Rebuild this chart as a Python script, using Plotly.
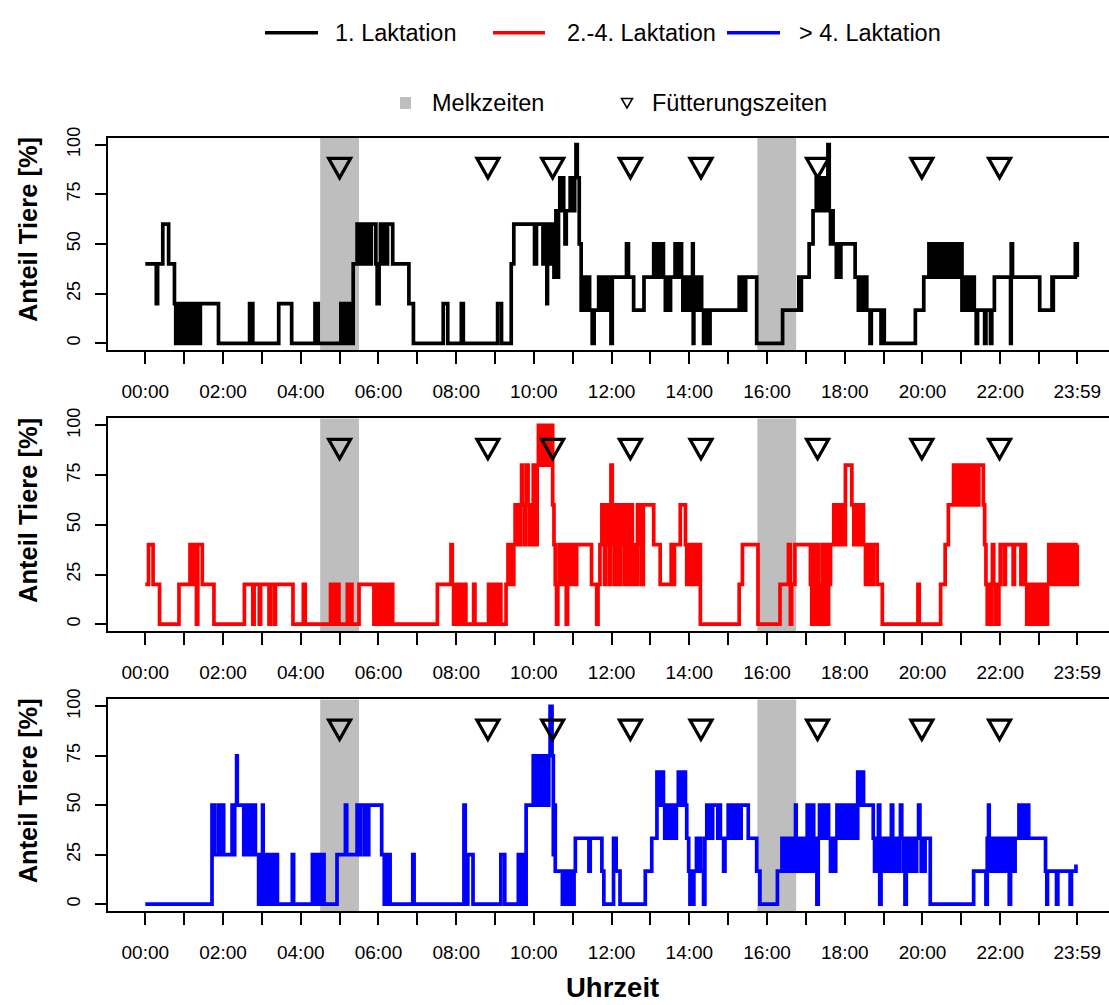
import plotly.graph_objects as go

# Time of day in minutes after midnight, share of animals in the area in percent.
# 1. Laktation
t1 = [0, 17, 19, 27, 36, 45, 47, 49, 51, 53, 55, 57, 59, 61, 63, 65, 67, 69, 71, 73, 75, 77, 79, 81, 83, 85,
      113, 161, 166, 206, 226, 262, 267, 302, 304, 307, 309, 312, 314, 317, 319, 321, 327, 329, 331, 333, 335,
      337, 339, 341, 343, 347, 349, 356, 358, 361, 363, 368, 369, 373, 374, 382, 407, 414, 460, 467, 488, 491,
      544, 550, 565, 569, 601, 604, 614, 616, 618, 620, 621, 623, 625, 627, 629, 631, 634, 636, 638, 640, 642,
      644, 646, 648, 650, 656, 660, 663, 665, 667, 670, 673, 675, 677, 679, 681, 684, 686, 690, 693, 700, 702,
      704, 706, 708, 710, 712, 714, 716, 719, 721, 743, 746, 754, 770, 785, 787, 789, 791, 793, 795, 797, 800,
      803, 806, 808, 811, 818, 820, 822, 824, 826, 828, 830, 832, 834, 836, 838, 840, 843, 845, 846, 847, 849,
      851, 853, 855, 857, 859, 862, 864, 866, 868, 870, 872, 917, 919, 922, 924, 927, 944, 984, 1009, 1011, 1013,
      1025, 1031, 1036, 1038, 1040, 1042, 1044, 1046, 1048, 1050, 1052, 1054, 1056, 1058, 1060, 1062, 1067,
      1068, 1073, 1074, 1096, 1101, 1103, 1105, 1107, 1109, 1111, 1114, 1119, 1121, 1136, 1138, 1141, 1189,
      1202, 1210, 1212, 1214, 1216, 1218, 1220, 1222, 1224, 1226, 1228, 1230, 1232, 1234, 1236, 1238, 1240,
      1242, 1244, 1246, 1248, 1250, 1252, 1254, 1256, 1258, 1261, 1263, 1265, 1267, 1269, 1271, 1274, 1277,
      1280, 1283, 1285, 1296, 1298, 1305, 1307, 1311, 1336, 1337, 1339, 1381, 1400, 1401, 1402, 1436, 1439]
v1 = [40, 20, 40, 60, 40, 20, 0, 20, 0, 20, 0, 20, 0, 20, 0, 20, 0, 20, 0, 20, 0, 20, 0, 20, 0, 20,
      0, 20, 0, 20, 0, 20, 0, 20, 0, 20, 0, 20, 0, 20, 0, 40, 60, 40, 60, 40, 60,
      40, 60, 40, 60, 40, 60, 40, 20, 40, 60, 40, 60, 40, 60, 40, 20, 0, 20, 0, 20, 0,
      20, 0, 40, 60, 40, 60, 40, 60, 40, 20, 40, 60, 40, 60, 40, 33.3, 66.7, 33.3, 66.7, 83.3, 66.7,
      83.3, 66.7, 50, 66.7, 83.3, 66.7, 83.3, 100, 83.3, 50, 16.7, 33.3, 16.7, 33.3, 16.7, 33.3, 16.7, 0, 16.7, 33.3, 16.7,
      33.3, 16.7, 33.3, 16.7, 33.3, 16.7, 33.3, 0, 33.3, 50, 33.3, 16.7, 33.3, 50, 33.3, 50, 33.3, 50, 33.3, 50, 33.3,
      16.7, 33.3, 16.7, 33.3, 50, 33.3, 50, 33.3, 50, 33.3, 16.7, 33.3, 16.7, 33.3, 16.7, 33.3, 16.7, 50, 0, 16.7, 33.3,
      16.7, 33.3, 16.7, 33.3, 16.7, 0, 16.7, 0, 16.7, 0, 16.7, 33.3, 16.7, 33.3, 16.7, 33.3, 0, 16.7, 33.3, 16.7, 33.3,
      50, 66.7, 83.3, 66.7, 83.3, 66.7, 83.3, 66.7, 83.3, 66.7, 83.3, 100, 66.7, 50, 66.7, 50, 33.3,
      50, 33.3, 50, 33.3, 16.7, 33.3, 16.7, 33.3, 16.7, 33.3, 16.7, 0, 16.7, 0, 16.7, 0, 16.7,
      33.3, 50, 33.3, 50, 33.3, 50, 33.3, 50, 33.3, 50, 33.3, 50, 33.3, 50, 33.3, 50, 33.3,
      50, 33.3, 50, 33.3, 50, 33.3, 50, 33.3, 50, 16.7, 33.3, 16.7, 33.3, 16.7, 33.3, 16.7, 33.3,
      16.7, 0, 16.7, 0, 16.7, 0, 16.7, 33.3, 0, 50, 33.3, 16.7, 33.3, 16.7, 33.3, 50, 33.3]

# 2.-4. Laktation
t2 = [0, 5, 12, 22, 52, 69, 73, 75, 79, 81, 88, 106, 153, 166, 168, 176, 178, 191, 193, 199, 201,
      228, 244, 247, 286, 288, 290, 291, 294, 296, 298, 299, 312, 314, 317, 319, 330, 353,
      355, 357, 359, 361, 363, 365, 367, 369, 371, 373, 375, 377, 379, 382, 451, 472, 474, 476, 478, 480, 482,
      484, 486, 488, 490, 495, 507, 509, 530, 532, 535, 537, 541, 543, 547, 549, 557, 560, 562, 564, 566, 569,
      571, 573, 575, 577, 579, 581, 583, 585, 587, 589, 591, 593, 595, 597, 599, 601, 603, 605, 607, 609, 611,
      613, 615, 617, 619, 621, 623, 625, 627, 629, 631, 633, 635, 637, 639, 641, 643, 645, 647, 650, 652, 655,
      657, 660, 662, 666, 689, 697, 699, 702, 705, 707, 709, 711, 713, 715, 717, 719, 721, 723, 725, 728, 730,
      732, 734, 736, 738, 740, 742, 744, 746, 748, 750, 752, 755, 757, 760, 762, 764, 766, 769, 785, 795, 812,
      815, 817, 826, 834, 836, 838, 840, 842, 844, 846, 848, 850, 852, 854, 857, 917, 922, 946, 980, 993, 996,
      998, 1003, 1027, 1029, 1031, 1033, 1035, 1037, 1039, 1041, 1043, 1045, 1047, 1049, 1051, 1053, 1055,
      1058, 1063, 1065, 1067, 1069, 1071, 1073, 1075, 1077, 1081, 1091, 1094, 1096, 1098, 1100, 1102, 1104,
      1109, 1112, 1114, 1117, 1119, 1122, 1124, 1130, 1138, 1193, 1195, 1228, 1235, 1240, 1248, 1250, 1252,
      1254, 1256, 1258, 1260, 1262, 1264, 1266, 1268, 1270, 1272, 1274, 1276, 1278, 1280, 1284, 1287, 1294,
      1296, 1298, 1300, 1302, 1304, 1306, 1308, 1310, 1312, 1314, 1316, 1318, 1320, 1326, 1328, 1340, 1342,
      1352, 1357, 1359, 1361, 1363, 1365, 1367, 1369, 1371, 1373, 1375, 1377, 1379, 1381, 1384, 1386, 1389,
      1391, 1393, 1395, 1397, 1399, 1401, 1403, 1405, 1407, 1409, 1411, 1413, 1415, 1417, 1419, 1421, 1423,
      1425, 1427, 1429, 1431, 1433, 1435, 1437, 1439]
v2 = [20, 40, 20, 0, 20, 40, 20, 40, 0, 40, 20, 0, 20, 0, 20, 0, 20, 0, 20, 0, 20,
      0, 20, 0, 20, 0, 20, 0, 20, 0, 20, 0, 20, 0, 20, 0, 20, 0,
      20, 0, 20, 0, 20, 0, 20, 0, 20, 0, 20, 0, 20, 0, 20, 40, 20, 0, 20, 0, 20,
      0, 20, 0, 20, 0, 20, 0, 20, 0, 20, 0, 20, 0, 20, 0, 20, 40, 20, 40, 20, 40,
      60, 40, 60, 40, 60, 80, 60, 40, 60, 80, 60, 40, 60, 40, 80, 60, 40, 80, 100, 80, 100,
      80, 100, 80, 100, 80, 100, 80, 100, 60, 40, 20, 0, 20, 40, 20, 40, 20, 40, 0, 20, 40,
      20, 40, 20, 40, 20, 0, 20, 40, 60, 40, 20, 60, 40, 60, 20, 80, 60, 40, 20, 60, 40,
      20, 60, 40, 60, 20, 40, 60, 20, 40, 60, 20, 40, 20, 60, 40, 60, 20, 60, 40, 20, 40,
      20, 40, 60, 40, 20, 40, 20, 40, 20, 40, 20, 40, 20, 40, 0, 20, 40, 0, 20, 40, 0,
      20, 40, 20, 0, 40, 20, 0, 40, 20, 0, 20, 40, 0, 20, 40, 0, 20,
      40, 60, 40, 60, 40, 60, 40, 60, 40, 80, 60, 40, 60, 40, 60, 40, 60,
      40, 20, 40, 20, 40, 20, 40, 20, 0, 20, 0, 20, 40, 60, 80, 60, 80,
      60, 80, 60, 80, 60, 80, 60, 80, 60, 80, 60, 80, 60, 80, 60, 80, 60, 40, 20,
      0, 20, 0, 20, 40, 20, 0, 20, 0, 20, 40, 20, 40, 20, 40, 20, 40,
      20, 0, 20, 0, 20, 0, 20, 0, 20, 0, 20, 0, 20, 0, 20, 0, 20,
      40, 20, 40, 20, 40, 20, 40, 20, 40, 20, 40, 20, 40, 20, 40, 20, 40,
      20, 40, 20, 40, 20, 40, 20, 20]

# > 4. Laktation
t3 = [0, 103, 107, 113, 115, 117, 121, 134, 136, 138, 141, 142, 152, 154, 156, 158, 160, 162, 165, 167, 170,
      175, 177, 179, 181, 182, 184, 186, 188, 190, 192, 194, 198, 203, 204, 227, 229, 258, 260, 262, 264, 266,
      268, 270, 272, 274, 276, 296, 309, 311, 327, 331, 332, 338, 339, 344, 345, 365, 369, 371, 373, 375, 378,
      413, 415, 492, 494, 496, 498, 506, 549, 555, 576, 578, 580, 582, 584, 586, 588, 599, 601, 603, 605, 607,
      609, 611, 613, 615, 617, 619, 621, 623, 625, 628, 630, 632, 633, 644, 646, 648, 650, 652, 654, 656, 658,
      660, 662, 664, 685, 687, 705, 708, 723, 727, 733, 772, 782, 790, 792, 794, 796, 798, 800, 802, 804, 806,
      808, 810, 812, 814, 816, 818, 820, 823, 825, 827, 829, 831, 834, 836, 839, 841, 843, 845, 847, 851, 853,
      855, 858, 862, 864, 867, 869, 871, 875, 876, 884, 886, 888, 893, 895, 900, 902, 904, 906, 908, 910, 912,
      914, 916, 918, 920, 931, 944, 949, 976, 983, 985, 987, 989, 991, 993, 995, 997, 999, 1001, 1004, 1005,
      1007, 1009, 1011, 1013, 1015, 1017, 1019, 1022, 1024, 1026, 1028, 1030, 1032, 1034, 1037, 1039, 1041,
      1043, 1045, 1047, 1049, 1051, 1053, 1055, 1058, 1060, 1064, 1066, 1068, 1070, 1072, 1074, 1076, 1078,
      1080, 1082, 1084, 1086, 1088, 1090, 1092, 1094, 1096, 1098, 1100, 1104, 1106, 1109, 1124, 1126, 1128,
      1130, 1132, 1134, 1136, 1138, 1140, 1142, 1144, 1146, 1148, 1150, 1152, 1154, 1156, 1158, 1160, 1162,
      1164, 1166, 1168, 1170, 1173, 1175, 1177, 1179, 1181, 1183, 1185, 1187, 1189, 1191, 1194, 1196, 1198,
      1200, 1202, 1204, 1212, 1279, 1298, 1300, 1302, 1303, 1305, 1307, 1309, 1311, 1313, 1315, 1317, 1319,
      1321, 1323, 1325, 1327, 1329, 1331, 1334, 1336, 1338, 1341, 1343, 1349, 1351, 1353, 1355, 1357, 1359,
      1361, 1364, 1390, 1392, 1393, 1407, 1409, 1428, 1430, 1437]
v3 = [0, 50, 25, 50, 25, 50, 25, 50, 25, 50, 75, 50, 25, 50, 25, 50, 25, 50, 25, 50, 25,
      0, 25, 0, 50, 25, 0, 25, 0, 25, 0, 25, 0, 25, 0, 25, 0, 25, 0, 25, 0, 25,
      0, 25, 0, 25, 0, 25, 50, 25, 50, 25, 50, 25, 50, 25, 50, 25, 0, 25, 0, 25, 0,
      25, 0, 50, 25, 0, 25, 0, 25, 0, 25, 0, 25, 0, 25, 0, 50, 75, 50, 75, 50, 75,
      50, 75, 50, 75, 50, 75, 50, 75, 100, 75, 25, 50, 16.7, 0, 16.7, 0, 16.7, 0, 16.7, 0, 16.7,
      0, 16.7, 33.3, 16.7, 33.3, 16.7, 0, 33.3, 16.7, 0, 16.7, 33.3, 66.7, 50, 66.7, 50, 66.7, 50, 33.3, 50, 33.3,
      50, 33.3, 50, 33.3, 50, 33.3, 50, 66.7, 50, 66.7, 50, 66.7, 50, 33.3, 16.7, 0, 16.7, 0, 16.7, 33.3, 16.7,
      33.3, 16.7, 0, 33.3, 50, 33.3, 50, 33.3, 50, 33.3, 50, 33.3, 16.7, 33.3, 50, 33.3, 50, 33.3, 50, 33.3, 50,
      33.3, 50, 33.3, 50, 33.3, 16.7, 0, 16.7, 33.3, 16.7, 33.3, 16.7, 33.3, 16.7, 33.3, 16.7, 33.3, 16.7, 50, 33.3,
      16.7, 33.3, 16.7, 33.3, 16.7, 33.3, 16.7, 50, 16.7, 50, 16.7, 50, 33.3, 16.7, 0, 33.3, 50,
      33.3, 50, 33.3, 50, 33.3, 50, 33.3, 16.7, 33.3, 16.7, 33.3, 50, 33.3, 50, 33.3, 50, 33.3,
      50, 33.3, 50, 33.3, 50, 33.3, 50, 33.3, 50, 33.3, 66.7, 50, 66.7, 50, 33.3, 16.7, 33.3,
      16.7, 50, 0, 33.3, 16.7, 33.3, 16.7, 33.3, 16.7, 33.3, 16.7, 50, 16.7, 33.3, 16.7, 33.3, 16.7,
      33.3, 50, 33.3, 16.7, 0, 33.3, 16.7, 33.3, 16.7, 33.3, 16.7, 33.3, 16.7, 33.3, 50, 33.3, 16.7,
      33.3, 16.7, 33.3, 0, 16.7, 0, 33.3, 50, 33.3, 16.7, 33.3, 16.7, 33.3, 16.7, 33.3, 16.7, 33.3,
      16.7, 33.3, 16.7, 33.3, 16.7, 33.3, 0, 16.7, 33.3, 16.7, 33.3, 50, 33.3, 50, 33.3, 50, 33.3,
      50, 33.3, 16.7, 0, 16.7, 0, 16.7, 0, 16.7, 20]

series_names = ["1. Laktation", "2.-4. Laktation", "> 4. Laktation"]
series_colors = ["#000000", "#FF0000", "#0000FF"]

# Milking periods (start, end) and feeding times, in minutes
milking_start = [270, 945]
milking_end = [330, 1005]
feeding_times = [300, 529, 629, 749, 858, 1038, 1199, 1319]
feeding_marker_level = 88.5

tick_minutes = [h * 60 for h in range(24)] + [1439]
tick_labels = [f"{h:02d}:00" if h % 2 == 0 else "" for h in range(24)] + ["23:59"]

W, H = 1109, 1005
FONT = "Liberation Sans, Arial, sans-serif"

# Panel placement in pixels (top, bottom) and common left edge
panel_px = [(128, 343), (412, 627), (696, 910)]
left_px = 108
x_range = [-57.6, 1488]
y_range = [-3.5, 103.5]

fig = go.Figure()

series = [(t1, v1), (t2, v2), (t3, v3)]
for i, (t, v) in enumerate(series):
    ax = "" if i == 0 else str(i + 1)
    fig.add_trace(go.Scatter(
        x=t, y=v, mode="lines", line=dict(color=series_colors[i], width=3.7, shape="hv"),
        name=series_names[i], showlegend=False, xaxis="x" + ax, yaxis="y" + ax,
        hoverinfo="skip"))

    top, bot = panel_px[i]
    common_x = dict(
        domain=[left_px / W, 1.0], range=x_range, showgrid=False, zeroline=False,
        showline=True, linecolor="black", linewidth=2, mirror=True,
        tickmode="array", tickvals=tick_minutes, ticktext=tick_labels,
        ticks="outside", ticklen=12, tickwidth=2, tickcolor="black",
        ticklabelstandoff=11,
        tickfont=dict(family=FONT, size=19, color="black"),
        anchor="y" + ax, fixedrange=True)
    common_y = dict(
        domain=[1 - bot / H, 1 - top / H], range=y_range, showgrid=False, zeroline=False,
        showline=True, linecolor="black", linewidth=2, mirror=False,
        tickmode="array", tickvals=[0, 25, 50, 75, 100],
        ticks="outside", ticklen=11, tickwidth=2, tickcolor="black", tickangle=-90,
        ticklabelstandoff=8,
        tickfont=dict(family=FONT, size=18, color="black"),
        anchor="x" + ax, fixedrange=True)
    fig.update_layout({"xaxis" + ax: common_x, "yaxis" + ax: common_y})

    # milking periods as grey bands
    for s, e in zip(milking_start, milking_end):
        fig.add_shape(type="rect", xref="x" + ax, yref="y" + ax + " domain",
                      x0=s, x1=e, y0=0, y1=1, fillcolor="#BEBEBE",
                      line=dict(width=0), layer="below")
    # feeding times as open down-pointing triangles
    for ft in feeding_times:
        fig.add_shape(type="path", xref="x" + ax, yref="y" + ax,
                      xsizemode="pixel", ysizemode="pixel",
                      xanchor=ft, yanchor=feeding_marker_level,
                      path="M -11,9 L 11,9 L 0,-10.5 Z",
                      line=dict(color="black", width=3.2), fillcolor="rgba(0,0,0,0)")

    # y axis title, set slightly above the panel centre
    fig.add_annotation(text="<b>Anteil Tiere [%]</b>", xref="paper", yref="paper",
                       x=28 / W, y=1 - ((top + bot) / 2 - 14) / H, textangle=-90,
                       showarrow=False, font=dict(family=FONT, size=25.5, color="black"),
                       xanchor="center", yanchor="middle")

fig.add_annotation(text="<b>Uhrzeit</b>", xref="paper", yref="paper",
                   x=612 / W, y=1 - 987 / H, showarrow=False, borderpad=0,
                   font=dict(family=FONT, size=27.5, color="black"),
                   xanchor="center", yanchor="middle")

# Legend, first row: lactation groups
legend_line_x = [(265, 318), (493, 545), (727, 780)]
legend_text_x = [333, 565, 797]
row1_y = 1 - 22 / H
for (x0, x1), tx, name, col in zip(legend_line_x, legend_text_x, series_names, series_colors):
    fig.add_shape(type="line", xref="paper", yref="paper", x0=x0 / W, x1=x1 / W,
                  y0=row1_y, y1=row1_y, line=dict(color=col, width=3.7))
    fig.add_annotation(text=name, xref="paper", yref="paper", x=tx / W, y=row1_y,
                       showarrow=False, xanchor="left", yanchor="middle",
                       font=dict(family=FONT, size=23.5, color="black"))

# Legend, second row: milking and feeding times
row2_y = 1 - 93 / H
fig.add_shape(type="rect", xref="paper", yref="paper", x0=400 / W, x1=411 / W,
              y0=1 - 99 / H, y1=1 - 87 / H, fillcolor="#BEBEBE", line=dict(width=0))
fig.add_annotation(text="Melkzeiten", xref="paper", yref="paper", x=430 / W, y=row2_y,
                   showarrow=False, xanchor="left", yanchor="middle",
                   font=dict(family=FONT, size=23.5, color="black"))
fig.add_shape(type="path", xref="paper", yref="paper", xsizemode="pixel", ysizemode="pixel",
              xanchor=627 / W, yanchor=row2_y, path="M -5.5,4.5 L 5.5,4.5 L 0,-5 Z",
              line=dict(color="black", width=1.5), fillcolor="rgba(0,0,0,0)")
fig.add_annotation(text="Fütterungszeiten", xref="paper", yref="paper", x=650 / W, y=row2_y,
                   showarrow=False, xanchor="left", yanchor="middle",
                   font=dict(family=FONT, size=23.5, color="black"))

fig.update_layout(width=W, height=H, autosize=False,
                  margin=dict(l=0, r=0, t=0, b=0, pad=0),
                  paper_bgcolor="white", plot_bgcolor="white",
                  showlegend=False)

fig.write_html("out.html")
